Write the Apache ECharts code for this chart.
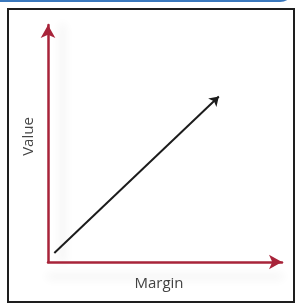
<!DOCTYPE html>
<html>
<head>
<meta charset="utf-8">
<script src="https://cdn.jsdelivr.net/npm/echarts@6/dist/echarts.min.js"></script>
<style>
  html, body { margin: 0; padding: 0; background: #fff; }
  #wrap { position: relative; width: 295px; height: 304px; overflow: hidden; }
  #topline { position: absolute; left: -2px; top: -18px; width: 294px; height: 18px;
             border-bottom: 2px solid #3a78bd; border-right: 2px solid #3a78bd;
             border-bottom-right-radius: 14px; }
  #frame { position: absolute; left: 7px; top: 8px; width: 284px; height: 291px;
           border: 2px solid #1e1e1e; }
  #chart { position: absolute; left: 0; top: 0; width: 295px; height: 304px; }
</style>
</head>
<body>
<div id="wrap">
  <div id="topline"></div>
  <div id="frame"></div>
  <div id="chart"></div>
</div>
<script>
  // 坐标轴名称
  const xName = 'Margin';
  const yName = 'Value';
  // 轴范围
  const xRange = [0, 10];
  const yRange = [0, 10];
  // 黑色箭头线的起点和终点
  const arrowStart = [0.27, 0.38];
  const arrowEnd = [7.3, 6.98];

  const axisRed = '#a8243a';
  const myChart = echarts.init(document.getElementById('chart'));

  const axisCommon = {
    type: 'value',
    axisTick: { show: false },
    axisLabel: { show: false },
    splitLine: { show: false },
    nameLocation: 'middle',
    nameTextStyle: { color: '#444', fontSize: 15, fontFamily: 'Open Sans' }
  };

  const option = {
    animation: false,
    grid: { left: 48, top: 25, right: 13, bottom: 42 },
    xAxis: Object.assign({}, axisCommon, {
      min: xRange[0], max: xRange[1],
      name: xName,
      nameGap: 14,
      nameTextStyle: Object.assign({}, axisCommon.nameTextStyle, { padding: [0, 12, 0, 0] }),
      axisLine: {
        show: true,
        symbol: ['none', 'arrow'],
        symbolSize: [11, 13],
        lineStyle: { color: axisRed, width: 2.5, shadowColor: 'rgba(0,0,0,0.12)', shadowBlur: 10, shadowOffsetY: 14 }
      }
    }),
    yAxis: Object.assign({}, axisCommon, {
      min: yRange[0], max: yRange[1],
      name: yName,
      nameGap: 12,
      nameRotate: 90,
      nameTextStyle: Object.assign({}, axisCommon.nameTextStyle, { padding: [0, 0, 0, 14] }),
      axisLine: {
        show: true,
        symbol: ['none', 'arrow'],
        symbolSize: [11, 13],
        lineStyle: { color: axisRed, width: 2.5, shadowColor: 'rgba(0,0,0,0.12)', shadowBlur: 10, shadowOffsetX: 14 }
      }
    }),
    series: [{
      type: 'lines',
      coordinateSystem: 'cartesian2d',
      symbol: ['none', 'arrow'],
      symbolSize: 9,
      lineStyle: { color: '#1c1c1c', width: 2, opacity: 1 },
      data: [{ coords: [arrowStart, arrowEnd] }]
    }]
  };
  myChart.setOption(option);
</script>
</body>
</html>
